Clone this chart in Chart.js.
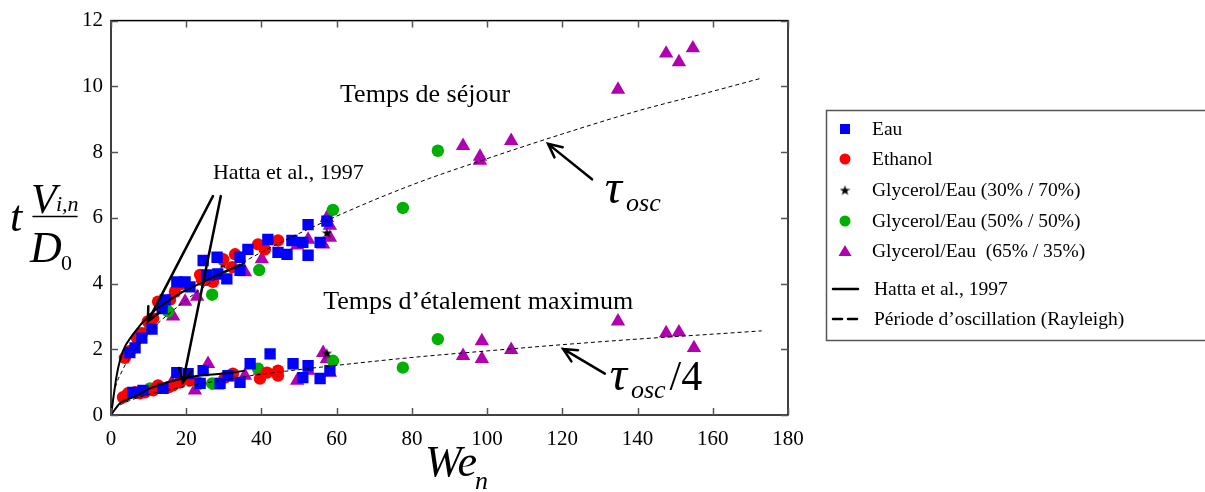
<!DOCTYPE html>
<html lang="fr">
<head>
<meta charset="utf-8">
<title>Temps de séjour et temps d'étalement maximum</title>
<script src="https://cdn.jsdelivr.net/npm/chart.js"></script>
<style>
  html, body { margin: 0; padding: 0; background: #fff; }
  #wrap { width: 1205px; height: 492px; }
</style>
</head>
<body>
<div id="wrap"><canvas id="graphe" width="1205" height="492"></canvas></div>
<script>
// axes
const xTicks = [0, 20, 40, 60, 80, 100, 120, 140, 160, 180];
const yTicks = [0, 2, 4, 6, 8, 10, 12];

// mesures [We_n, t.V/D0] - bande haute (séjour) puis bande basse (étalement)
const eau = [
  [5.0, 1.9], [6.4, 2.04], [8.2, 2.34], [10.9, 2.61], [13.6, 3.24], [14.4, 3.5], [17.5, 4.05], [19.7, 4.05],
  [21.0, 3.9], [24.5, 4.7], [25.5, 4.26], [28.2, 4.8], [28.4, 4.29], [30.8, 4.14], [34.3, 4.8], [34.3, 4.4],
  [36.4, 5.04], [41.7, 5.34], [44.4, 4.95], [46.8, 4.89], [48.1, 5.31], [51.0, 5.25], [52.4, 5.79],
  [52.4, 4.86], [55.6, 5.25], [57.4, 5.9],
  [5.8, 0.69], [8.5, 0.75], [13.8, 0.81], [17.5, 1.29], [20.5, 1.26], [23.7, 0.96], [24.5, 1.35],
  [29.0, 0.96], [31.1, 1.2], [34.3, 0.99], [37.0, 1.56], [42.3, 1.86], [48.4, 1.56], [52.4, 1.5],
  [51.0, 1.14], [55.6, 1.11], [58.2, 1.35]
];
const ethanol = [
  [3.7, 1.74], [5.1, 1.95], [6.9, 2.34], [8.2, 2.49], [9.8, 2.85], [11.2, 2.94], [12.5, 3.45], [15.7, 3.51],
  [17.0, 3.75], [18.9, 3.99], [23.7, 4.26], [24.2, 4.11], [27.1, 4.05], [29.8, 4.74], [32.2, 4.5],
  [33.0, 4.89], [39.1, 5.19], [40.9, 5.04], [44.4, 5.31],
  [3.2, 0.54], [4.5, 0.66], [6.4, 0.69], [7.7, 0.66], [9.0, 0.69], [11.2, 0.75], [12.5, 0.9], [15.2, 0.84],
  [16.5, 0.9], [18.3, 0.99], [21.0, 1.05], [23.7, 0.96], [30.3, 1.14], [32.2, 1.2], [32.4, 1.26],
  [39.6, 1.11], [41.5, 1.29], [44.4, 1.35], [44.4, 1.2]
];
const glycerol30 = [[29.8, 4.59], [57.4, 5.55], [29.8, 1.14], [57.4, 1.89]];
const glycerol50 = [
  [10.4, 2.64], [15.2, 3.15], [26.9, 3.66], [39.4, 4.41], [59.0, 6.24], [77.6, 6.3], [86.9, 8.04],
  [10.4, 0.81], [15.2, 0.84], [22.9, 0.99], [26.9, 0.96], [39.1, 1.41], [59.0, 1.65], [77.6, 1.44], [86.9, 2.31]
];
const glycerol65 = [
  [16.5, 3.0], [19.7, 3.45], [22.9, 3.6], [25.8, 4.05], [35.6, 4.35], [40.1, 4.74], [49.5, 5.16],
  [52.4, 5.34], [56.4, 5.19], [57.4, 6.0], [58.2, 5.76], [58.2, 5.4], [93.6, 8.19], [98.1, 7.86],
  [98.1, 7.74], [106.4, 8.34], [134.8, 9.9], [147.6, 11.0], [151.0, 10.74], [154.7, 11.16],
  [16.2, 0.99], [22.3, 0.75], [25.8, 1.56], [28.2, 0.9], [35.6, 1.2], [39.6, 1.35], [49.5, 1.05],
  [52.4, 1.35], [56.4, 1.89], [57.4, 1.71], [58.2, 1.29], [93.6, 1.8], [98.6, 2.25], [98.6, 1.71],
  [106.4, 1.98], [134.8, 2.85], [147.6, 2.49], [151.0, 2.52], [155.0, 2.04]
];

// courbes
const hattaHaut = [[0, 0], [1.6, 1.26], [3.2, 1.95], [5.9, 2.46], [10.4, 3.06], [14.9, 3.45], [19.1, 3.75], [23.7, 4.0], [28.2, 4.26], [35.6, 4.62]];
const hattaBas = [[0, 0], [2.4, 0.36], [5.9, 0.54], [10.4, 0.81], [14.9, 0.99], [19.1, 1.11], [23.7, 1.2], [29.8, 1.26], [35.6, 1.35]];
const rayleigh = [[0, 0], [1, 0.75], [3, 1.35], [5, 1.75], [10, 2.5], [20, 3.5], [30, 4.3], [40, 4.95], [60, 6.05], [80, 7.0], [100, 7.8], [120, 8.55], [140, 9.25], [160, 9.85], [173, 10.25]];
const rayleighQuart = [[0, 0], [1, 0.19], [3, 0.34], [5, 0.44], [10, 0.62], [20, 0.87], [30, 1.07], [40, 1.24], [60, 1.51], [80, 1.75], [100, 1.95], [120, 2.14], [140, 2.31], [160, 2.46], [173, 2.56]];

// flèches [x queue, y queue, x pointe, y pointe]
const fleches = [[27.1, 6.66, 9.8, 2.85], [29.2, 6.66, 19.1, 0.99], [127.9, 7.17, 116.2, 8.25], [131.3, 1.26, 120.2, 2.01]];

const serif = '"Liberation Serif", "Times New Roman", serif';

function etoile(taille) {
  const c = document.createElement('canvas');
  c.width = c.height = taille;
  const g = c.getContext('2d');
  g.fillStyle = '#000';
  g.beginPath();
  for (let i = 0; i < 10; i++) {
    const r = i % 2 ? taille * 0.2 : taille * 0.5;
    const a = -Math.PI / 2 + i * Math.PI / 5;
    g.lineTo(taille / 2 + r * Math.cos(a), taille / 2 + 0.06 * taille + r * Math.sin(a));
  }
  g.closePath();
  g.fill();
  return c;
}
const imgEtoile = etoile(11);

const pts = arr => arr.map(p => ({ x: p[0], y: p[1] }));

function nuage(label, data, style, r, couleur) {
  return { label: label, data: pts(data), pointStyle: style, pointRadius: r, pointHoverRadius: r,
           backgroundColor: couleur, borderColor: couleur, borderWidth: 0, showLine: false, order: 5 };
}
function courbe(label, data, larg, tirets) {
  return { type: 'line', label: label, data: pts(data), borderColor: '#000', borderWidth: larg,
           borderDash: tirets, pointRadius: 0, fill: false, cubicInterpolationMode: 'monotone', order: 0 };
}

const legende = [
  { txt: 'Eau', y: 129 },
  { txt: 'Ethanol', y: 159 },
  { txt: 'Glycerol/Eau (30% / 70%)', y: 190 },
  { txt: 'Glycerol/Eau (50% / 50%)', y: 221 },
  { txt: 'Glycerol/Eau  (65% / 35%)', y: 251 },
  { txt: 'Hatta et al., 1997', y: 289 },
  { txt: 'Période d\u2019oscillation (Rayleigh)', y: 319 }
];

function tauOsc(g, x, y, suite) {
  g.font = 'italic 48px ' + serif;
  g.fillText('\u03C4', x, y);
  const w = g.measureText('\u03C4').width;
  g.font = 'italic 26px ' + serif;
  g.fillText('osc', x + w + 4, y + 8);
  const w2 = g.measureText('osc').width;
  if (suite) {
    g.font = '42px ' + serif;
    g.fillText(suite, x + w + 4 + w2 + 4, y);
  }
}

const decor = {
  id: 'decor',
  afterDraw(chart) {
    const g = chart.ctx, a = chart.chartArea;
    const sx = chart.scales.x, sy = chart.scales.y;
    g.save();
    // cadre et graduations intérieures
    g.strokeStyle = '#000';
    g.lineWidth = 1.5;
    g.strokeRect(a.left, a.top, a.right - a.left, a.bottom - a.top);
    g.strokeStyle = '#555';
    g.lineWidth = 1.5;
    g.beginPath();
    xTicks.forEach(v => {
      const px = Math.round(sx.getPixelForValue(v)) + 0.5;
      g.moveTo(px, a.bottom); g.lineTo(px, a.bottom - 7);
      g.moveTo(px, a.top); g.lineTo(px, a.top + 7);
    });
    yTicks.forEach(v => {
      const py = Math.round(sy.getPixelForValue(v)) + 0.5;
      g.moveTo(a.left, py); g.lineTo(a.left + 7, py);
      g.moveTo(a.right, py); g.lineTo(a.right - 7, py);
    });
    g.stroke();

    // flèches
    g.strokeStyle = '#000';
    g.lineWidth = 2.5;
    g.lineCap = 'round';
    fleches.forEach(f => {
      const x0 = sx.getPixelForValue(f[0]), y0 = sy.getPixelForValue(f[1]);
      const x1 = sx.getPixelForValue(f[2]), y1 = sy.getPixelForValue(f[3]);
      const ang = Math.atan2(y1 - y0, x1 - x0);
      g.beginPath();
      g.moveTo(x0, y0); g.lineTo(x1, y1);
      g.moveTo(x1 - 15 * Math.cos(ang - 0.45), y1 - 15 * Math.sin(ang - 0.45));
      g.lineTo(x1, y1);
      g.lineTo(x1 - 15 * Math.cos(ang + 0.45), y1 - 15 * Math.sin(ang + 0.45));
      g.stroke();
    });

    // textes dans le graphe
    g.fillStyle = '#000';
    g.textBaseline = 'alphabetic';
    g.textAlign = 'left';
    g.font = '26px ' + serif;
    g.fillText('Temps de séjour', sx.getPixelForValue(60.9), sy.getPixelForValue(9.51));
    g.fillText('Temps d\u2019étalement maximum', sx.getPixelForValue(56.4), sy.getPixelForValue(3.24));
    g.font = '22px ' + serif;
    g.fillText('Hatta et al., 1997', sx.getPixelForValue(27.1), sy.getPixelForValue(7.17));

    tauOsc(g, sx.getPixelForValue(131.3), sy.getPixelForValue(6.45), '');
    tauOsc(g, sx.getPixelForValue(132.6), sy.getPixelForValue(0.75), '/4');

    // titre axe y : t V_{i,n} / D_0
    g.font = 'italic 44px ' + serif;
    g.fillText('t', 10, 231);
    g.font = 'italic 42px ' + serif;
    g.fillText('V', 31, 213);
    g.font = 'italic 22px ' + serif;
    g.fillText('i,n', 56, 211);
    g.lineWidth = 1.5;
    g.beginPath(); g.moveTo(33, 216.5); g.lineTo(77, 216.5); g.stroke();
    g.font = 'italic 44px ' + serif;
    g.fillText('D', 30, 262);
    g.font = '22px ' + serif;
    g.fillText('0', 61, 270);

    // titre axe x : We_n
    g.font = 'italic 44px ' + serif;
    g.fillText('We', 425, 476);
    g.font = 'italic 26px ' + serif;
    g.fillText('n', 475, 489);

    // légende
    g.strokeStyle = '#555';
    g.lineWidth = 1.5;
    g.strokeRect(826.5, 110.5, 400, 230);
    g.font = '19.5px ' + serif;
    g.textBaseline = 'middle';
    legende.forEach((e, i) => {
      const mx = 845;
      if (i < 5) {
        const ds = chart.data.datasets[i];
        const st = ds.pointStyle;
        g.fillStyle = ds.backgroundColor;
        g.beginPath();
        if (st === 'rect') g.fillRect(mx - 5, e.y - 5, 10, 10);
        else if (st === 'circle') { g.arc(mx, e.y, 5.5, 0, Math.PI * 2); g.fill(); }
        else if (st === 'triangle') { g.moveTo(mx, e.y - 6); g.lineTo(mx + 6.5, e.y + 5); g.lineTo(mx - 6.5, e.y + 5); g.closePath(); g.fill(); }
        else g.drawImage(st, mx - 5.5, e.y - 5.5);
        g.fillStyle = '#000';
        g.fillText(e.txt, 872, e.y + 1);
      } else {
        g.strokeStyle = '#000';
        g.lineWidth = 2.5;
        g.setLineDash(i === 5 ? [] : [9, 6]);
        g.beginPath(); g.moveTo(833, e.y); g.lineTo(858, e.y); g.stroke();
        g.setLineDash([]);
        g.fillStyle = '#000';
        g.fillText(e.txt, 874, e.y + 1);
      }
    });
    g.restore();
  }
};

new Chart(document.getElementById('graphe'), {
  type: 'scatter',
  data: {
    datasets: [
      nuage('Eau', eau, 'rect', 8, '#0000ff'),
      nuage('Ethanol', ethanol, 'circle', 6.2, '#ff0000'),
      nuage('Glycerol/Eau (30% / 70%)', glycerol30, imgEtoile, 5.5, '#000'),
      nuage('Glycerol/Eau (50% / 50%)', glycerol50, 'circle', 6.2, '#00b000'),
      nuage('Glycerol/Eau  (65% / 35%)', glycerol65, 'triangle', 8.3, '#b000b0'),
      courbe('Hatta et al., 1997', hattaHaut, 2, []),
      courbe('Hatta bas', hattaBas, 2, []),
      courbe('Période d\u2019oscillation (Rayleigh)', rayleigh, 1, [4, 3]),
      courbe('Rayleigh / 4', rayleighQuart, 1, [4, 3])
    ]
  },
  options: {
    responsive: false,
    animation: false,
    devicePixelRatio: 1,
    layout: { padding: { left: 0, right: 417, top: 15, bottom: 0 } },
    plugins: { legend: { display: false }, tooltip: { enabled: false } },
    scales: {
      x: {
        type: 'linear', min: 0, max: 180,
        afterBuildTicks: s => { s.ticks = xTicks.map(v => ({ value: v })); },
        afterFit: s => { s.height = 77; },
        grid: { display: false, drawTicks: false },
        border: { display: false },
        ticks: { color: '#000', padding: 12, font: { family: serif, size: 21 } }
      },
      y: {
        type: 'linear', min: 0, max: 12,
        afterBuildTicks: s => { s.ticks = yTicks.map(v => ({ value: v })); },
        afterFit: s => { s.width = 111; },
        grid: { display: false, drawTicks: false },
        border: { display: false },
        ticks: { color: '#000', padding: 8, font: { family: serif, size: 21 } }
      }
    }
  },
  plugins: [decor]
});
</script>
</body>
</html>
